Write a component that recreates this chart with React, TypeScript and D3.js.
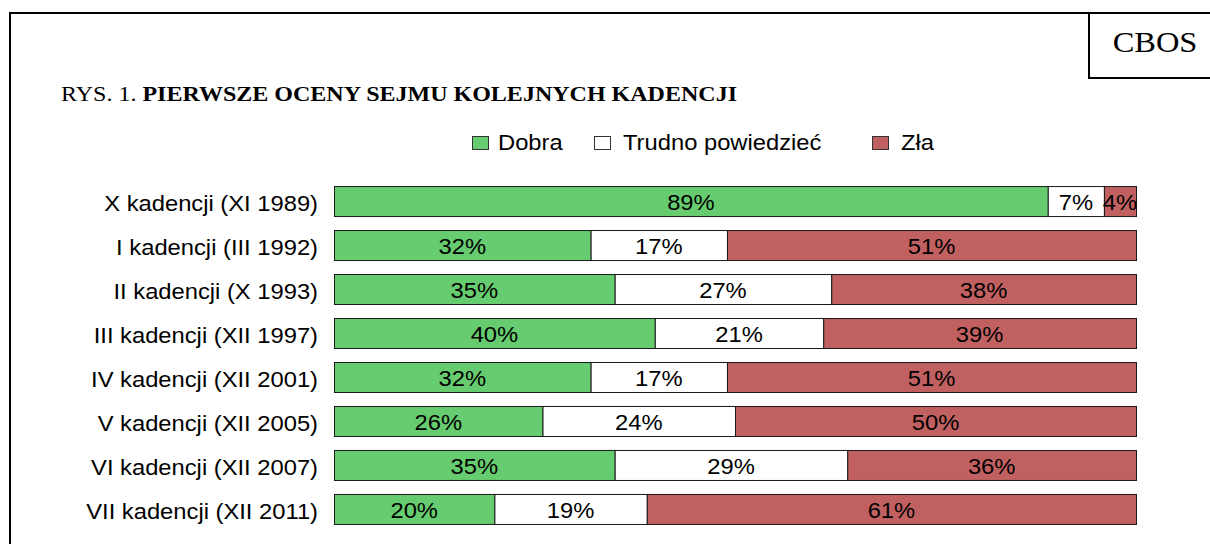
import * as d3 from 'd3';

const CATEGORIES = [
  'X kadencji (XI 1989)',
  'I kadencji (III 1992)',
  'II kadencji (X 1993)',
  'III kadencji (XII 1997)',
  'IV kadencji (XII 2001)',
  'V kadencji (XII 2005)',
  'VI kadencji (XII 2007)',
  'VII kadencji (XII 2011)',
];
const DOBRA = [89, 32, 35, 40, 32, 26, 35, 20];
const TRUDNO = [7, 17, 27, 21, 17, 24, 29, 19];
const ZLA = [4, 51, 38, 39, 51, 50, 36, 61];
const SERIES = ['Dobra', 'Trudno powiedzieć', 'Zła'];
const COLORS = ['#66cc6f', '#ffffff', '#c06060'];

const W = 1210, H = 544;
const sans = '"Liberation Sans", Arial, sans-serif';
const serif = '"Liberation Serif", "Times New Roman", serif';
const SX = 1.08; // the original text is slightly wider than Arial

// text drawn stretched horizontally around its anchor point
function T({ x, y, anchor = 'start', size = 22, dy = '0', children }: any) {
  return (
    <text transform={`translate(${x},${y}) scale(${SX},1)`} dy={dy} textAnchor={anchor}
      fontFamily={sans} fontSize={size} fill="#000">{children}</text>
  );
}

export default function App() {
  const rows = CATEGORIES.map((c, i) => ({ c, v: [DOBRA[i], TRUDNO[i], ZLA[i]] }));
  const x = d3.scaleLinear().domain([0, 100]).range([334, 1136]);
  const y = d3.scaleBand().domain(CATEGORIES).range([179, 531]).paddingInner(0.318).paddingOuter(0.16);
  const legendBox = [472, 594, 872];
  const legendText = [498, 623, 901];

  return (
    <svg width={W} height={H} style={{ position: 'absolute', left: 0, top: 0 }}>
      <rect width={W} height={H} fill="#fff" />
      <path d={`M10,${H + 5} V13 H${W + 5}`} fill="none" stroke="#000" strokeWidth={2} />
      <path d={`M1089,13 V78 H${W + 5}`} fill="none" stroke="#000" strokeWidth={2} />
      <text transform={`translate(1155,52) scale(${SX},1)`} textAnchor="middle" fontFamily={serif} fontSize={30}>CBOS</text>
      <text x={61} y={101} fontFamily={serif} fontSize={21} textLength={676} lengthAdjust="spacingAndGlyphs">
        RYS. 1. <tspan fontWeight="bold">PIERWSZE OCENY SEJMU KOLEJNYCH KADENCJI</tspan>
      </text>
      {SERIES.map((s, i) => (
        <g key={s}>
          <rect x={legendBox[i] + 0.5} y={136.5} width={16} height={13} fill={COLORS[i]} stroke="#333" strokeWidth={1} />
          <T x={legendText[i]} y={150}>{s}</T>
        </g>
      ))}
      {rows.map(r => {
        const y0 = y(r.c)!;
        const bh = y.bandwidth();
        const starts = r.v.map((_, i) => d3.sum(r.v.slice(0, i)));
        return (
          <g key={r.c}>
            <T x={318} y={y0 + bh / 2} dy="0.45em" anchor="end">{r.c}</T>
            {r.v.map((v, i) => (
              <rect key={i} x={x(starts[i]) + 0.5} y={y0 + 0.5} width={x(starts[i] + v) - x(starts[i])} height={bh}
                fill={COLORS[i]} stroke="#1a1a1a" strokeWidth={1} />
            ))}
            {r.v.map((v, i) => (
              <T key={'t' + i} x={(x(starts[i]) + x(starts[i] + v)) / 2} y={y0 + bh / 2} dy="0.42em" anchor="middle">
                {v}%
              </T>
            ))}
          </g>
        );
      })}
    </svg>
  );
}
